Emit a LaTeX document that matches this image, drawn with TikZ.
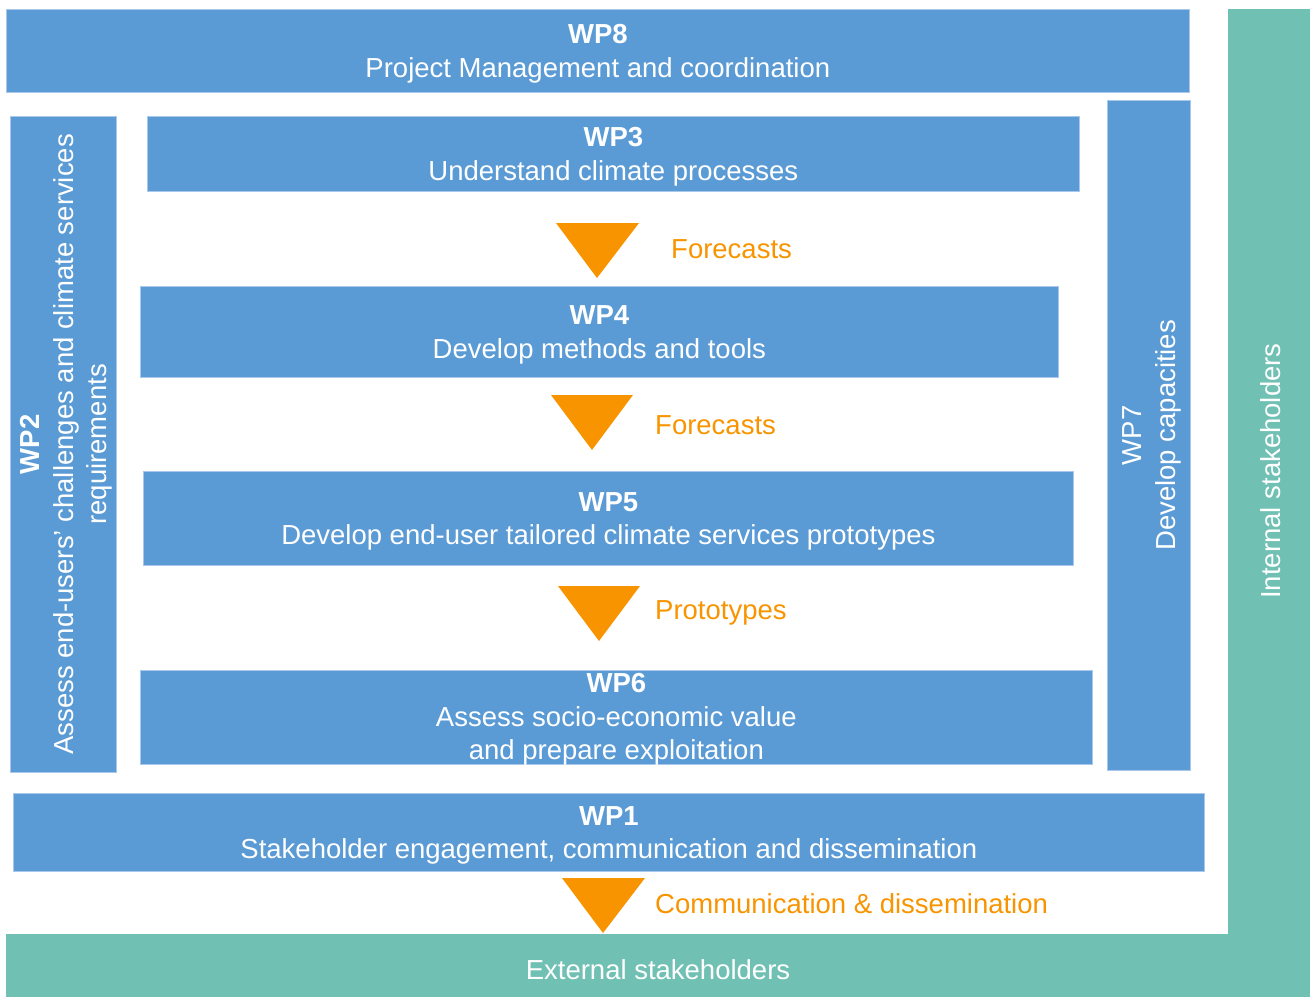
\documentclass[tikz,border=0pt]{standalone}
\usepackage{fontspec}
\setmainfont{Liberation Sans}
\definecolor{wpblue}{RGB}{91,155,213}
\definecolor{wpedge}{RGB}{170,200,235}
\definecolor{stteal}{RGB}{112,192,179}
\definecolor{arrorange}{RGB}{247,148,0}
\newcommand{\wpfont}{\fontsize{27.5}{33.5}\selectfont}
\tikzset{
  wp/.style={fill=wpblue, draw=wpedge, line width=0.7pt, inner sep=0pt, anchor=north west},
  wptext/.style={text=white, align=center, font=\wpfont, inner sep=0pt},
  stlabel/.style={text=white, font=\wpfont, inner sep=0pt},
  flowlabel/.style={text=arrorange, font=\wpfont, inner sep=0pt, anchor=west},
  flowtri/.style={fill=arrorange}
}
\begin{document}
\begin{tikzpicture}[x=1pt,y=-1pt]
\useasboundingbox (0,0) rectangle (1310,997);
% stakeholder L-shape
\fill[stteal] (1228,9) rectangle (1310,997);
\fill[stteal] (6,934) rectangle (1310,997);
\node[stlabel, rotate=90] (internal) at (1271,471) {Internal stakeholders};
\node[stlabel] (external) at (658,970) {External stakeholders};
% work packages
\node[wp, minimum width=1183pt, minimum height=83pt] (wp8) at (6,9) {};
\node[wptext] (wp8t) at ([yshift=-3pt]wp8.center) {\textbf{WP8}\\Project Management and coordination};
\node[wp, minimum width=106pt, minimum height=656pt] (wp2) at (10,116) {};
\node[wptext, rotate=90] (wp2t) at ([xshift=3pt]wp2.center)
  {\textbf{WP2}\\Assess end-users’ challenges and climate services\\requirements};
\node[wp, minimum width=932pt, minimum height=75pt] (wp3) at (147,116) {};
\node[wptext] (wp3t) at ([yshift=-3pt]wp3.center) {\textbf{WP3}\\Understand climate processes};
\node[wp, minimum width=83pt, minimum height=670pt] (wp7) at (1107,100) {};
\node[wptext, rotate=90] (wp7t) at ([xshift=3pt]wp7.center) {WP7\\Develop capacities};
\node[wp, minimum width=918pt, minimum height=91pt] (wp4) at (140,286) {};
\node[wptext] (wp4t) at ([yshift=-3pt]wp4.center) {\textbf{WP4}\\Develop methods and tools};
\node[wp, minimum width=930pt, minimum height=94pt] (wp5) at (143,471) {};
\node[wptext] (wp5t) at ([yshift=-3pt]wp5.center) {\textbf{WP5}\\Develop end-user tailored climate services prototypes};
\node[wp, minimum width=952pt, minimum height=94pt] (wp6) at (140,670) {};
\node[wptext] (wp6t) at ([yshift=-2pt]wp6.center) {\textbf{WP6}\\Assess socio-economic value\\and prepare exploitation};
\node[wp, minimum width=1191pt, minimum height=78pt] (wp1) at (13,793) {};
\node[wptext] (wp1t) at ([yshift=-3pt]wp1.center) {\textbf{WP1}\\Stakeholder engagement, communication and dissemination};
% flow triangles
\fill[flowtri] (556,223) -- (639,223) -- (597,278) -- cycle;
\fill[flowtri] (551,395) -- (633,395) -- (592,450) -- cycle;
\fill[flowtri] (558,586) -- (640,586) -- (599,641) -- cycle;
\fill[flowtri] (562,878) -- (645,878) -- (603,933) -- cycle;
\node[flowlabel] (f1) at (671,249) {Forecasts};
\node[flowlabel] (f2) at (655,425) {Forecasts};
\node[flowlabel] (f3) at (655,613) {Prototypes};
\node[flowlabel] (f4) at (655,904) {Communication \& dissemination};
\end{tikzpicture}
\end{document}
